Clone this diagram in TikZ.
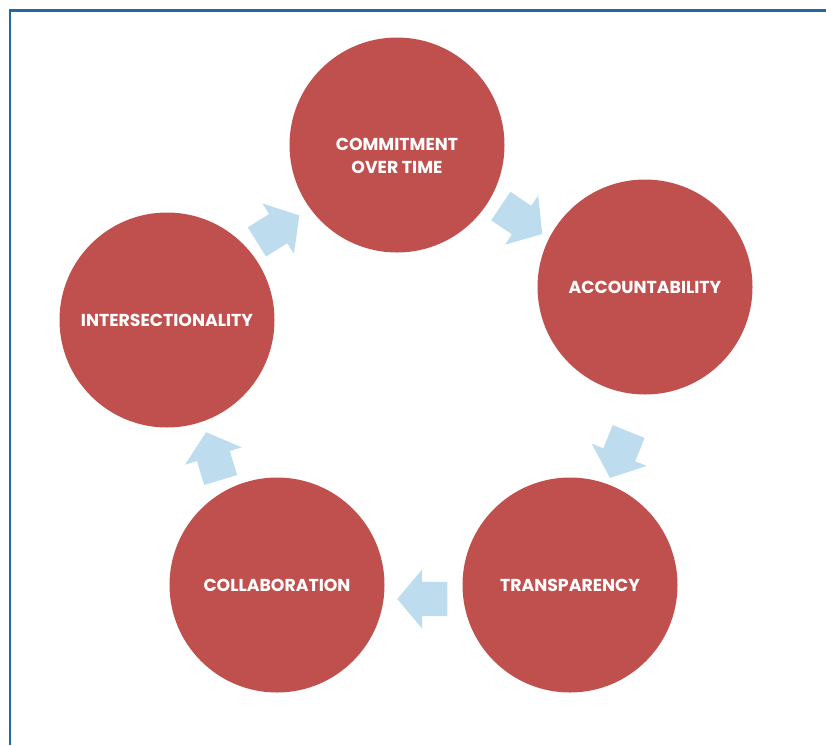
\documentclass[tikz,border=0pt]{standalone}
\usepackage{fontspec}
\setmainfont{Poppins}
\usepackage{tikz}
\usetikzlibrary{shapes.arrows, positioning}
\definecolor{circred}{HTML}{C0504D}
\definecolor{arrowblue}{HTML}{BDDCEE}
\definecolor{frameblue}{HTML}{1F6AA5}
\tikzset{
x=1pt, y=-1pt, % one unit is one pixel of the target, y runs downwards
stage/.style={circle, fill=circred, minimum size=215pt, inner sep=0pt,
  text=white, align=center, font=\fontsize{17.3}{23}\selectfont\bfseries}, % the red circles
cyclearrow/.style={single arrow, fill=arrowblue, inner xsep=0pt, inner ysep=17pt,
  minimum height=50pt, single arrow head extend=12.5pt,
  single arrow tip angle=100, single arrow head indent=0pt}, % the light blue block arrows
}

\begin{document}
\begin{tikzpicture}
        \useasboundingbox (0,0) rectangle (826,745);
        \draw[frameblue, line width=2.5pt] (10,745) -- (10,10.5) -- (826,10.5);

        \node[stage] (commit) at (397,145)
          {\raisebox{-16.5pt}[0pt][0pt]{\begin{tabular}{@{}c@{}}COMMITMENT\\OVER TIME\end{tabular}}};
        \node[stage] (account) at (645,287) {ACCOUNTABILITY};
        \node[stage] (transp) at (570,585) {TRANSPARENCY};
        \node[stage] (collab) at (277,585) {COLLABORATION};
        \node[stage] (intersect) at (167,320) {INTERSECTIONALITY};

        \node[cyclearrow, rotate=-34] (a1) at (515.5,216) {};
        \node[cyclearrow, rotate=-112] (a2) at (622,448) {};
        \node[cyclearrow, rotate=180] (a3) at (429.5,599) {};
        \node[cyclearrow, rotate=107] (a4) at (215.5,463) {};
        \node[cyclearrow, rotate=32] (a5) at (272,232.5) {};
      \end{tikzpicture}
\end{document}
